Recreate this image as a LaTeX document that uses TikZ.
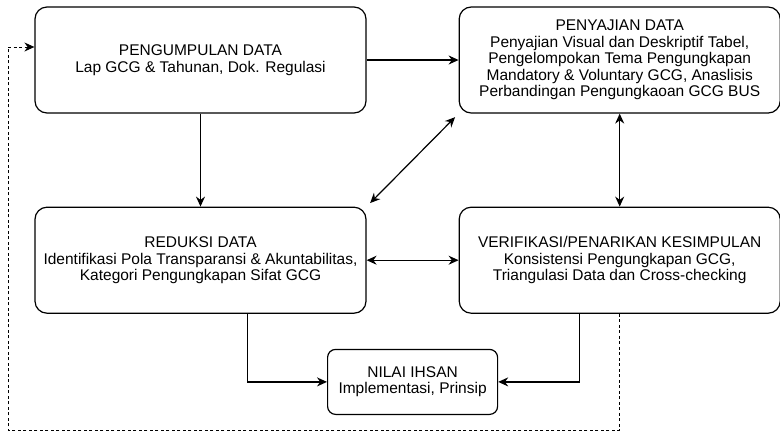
\documentclass[tikz,border=0pt]{standalone}
\usepackage{fontspec}
\setsansfont{Liberation Sans}
\usepackage{tikz}
\usetikzlibrary{arrows.meta, positioning, calc}
\tikzset{
    stage/.style={
        rectangle,
        rounded corners=12pt,
        draw=black,
        line width=1.2pt,
        fill=white,
        text centered,
        align=center,
        minimum width=331pt,
        minimum height=106pt,
        inner sep=0pt,
        font=\fontsize{15.5}{16.5}\selectfont\sffamily
    },
    widestage/.style={
        stage,
        minimum width=321pt
    },
    smallstage/.style={
        stage,
        rounded corners=8pt,
        minimum width=170pt,
        minimum height=65pt
    },
    flow/.style={
        draw=black,
        line width=1.2pt,
        -{Stealth[length=10pt,width=9pt]}
    },
    twoway/.style={
        flow,
        {Stealth[length=10pt,width=9pt]}-{Stealth[length=10pt,width=9pt]}
    },
    feedback/.style={
        flow,
        line width=1pt,
        dash pattern=on 3pt off 2.5pt
    }
}

\begin{document}
\begin{tikzpicture}[x=1pt, y=-1pt]
\useasboundingbox (0,0) rectangle (780,432);
% Stages of the analysis
\node[stage] (pengumpulan) at (200.5,60) {PENGUMPULAN DATA\\Lap GCG \& Tahunan, Dok. Regulasi};
\node[widestage, right=92pt of pengumpulan] (penyajian) {PENYAJIAN DATA\\Penyajian Visual dan Deskriptif Tabel,\\Pengelompokan Tema Pengungkapan\\Mandatory \& Voluntary GCG, Anaslisis\\Perbandingan Pengungkaoan GCG BUS};
\node[stage, below=93pt of pengumpulan] (reduksi) {REDUKSI DATA\\Identifikasi Pola Transparansi \& Akuntabilitas,\\Kategori Pengungkapan Sifat GCG};
\node[widestage, below=93pt of penyajian] (verifikasi) {VERIFIKASI/PENARIKAN KESIMPULAN\\Konsistensi Pengungkapan GCG,\\Triangulasi Data dan Cross-checking};
\coordinate (gapmid) at ($(reduksi.south east)!0.5!(verifikasi.south west)$);
\node[smallstage, below=35pt of gapmid] (nilai) {NILAI IHSAN\\Implementasi, Prinsip};
\coordinate (loopback) at (8,430);

\draw[flow] (pengumpulan) -- (penyajian);
\draw[flow] (pengumpulan) -- (reduksi);
\draw[twoway, shorten <=5pt, shorten >=5pt] (reduksi.north east) -- (penyajian.south west);
\draw[twoway] (penyajian) -- (verifikasi);
\draw[twoway] (reduksi) -- (verifikasi);
\draw[flow] ([xshift=47pt]reduksi.south) |- (nilai.west);
\draw[flow] ([xshift=-40pt]verifikasi.south) |- (nilai.east);
\draw[feedback] (verifikasi.south) |- (loopback) |- ([yshift=13pt]pengumpulan.west);
\end{tikzpicture}
\end{document}
